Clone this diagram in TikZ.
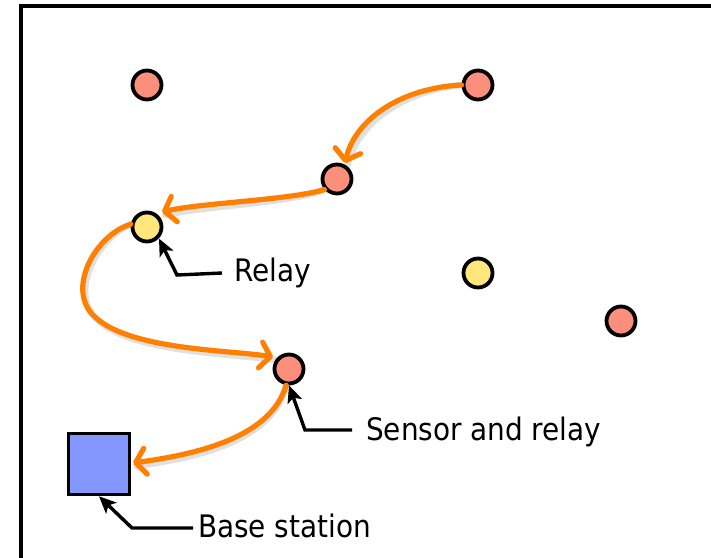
\documentclass[tikz,border=0pt]{standalone}
\usepackage{fontspec}
\setmainfont{DejaVu Sans Condensed}
\usetikzlibrary{arrows.meta}
\definecolor{flow}{RGB}{255,128,0}
\definecolor{sensorfill}{RGB}{252,142,124}
\definecolor{relayfill}{RGB}{255,230,125}
\definecolor{basefill}{RGB}{132,150,255}
\tikzset{
  sensor/.style={circle, draw=black, line width=3.8pt, fill=sensorfill, minimum size=29pt, inner sep=0pt},
  relay/.style={circle, draw=black, line width=3.8pt, fill=relayfill, minimum size=29pt, inner sep=0pt},
  base/.style={rectangle, draw=black, line width=3.6pt, fill=basefill, minimum size=61pt, inner sep=0pt},
  hop/.style={draw=flow, line width=5.2pt, line cap=round,
    -{Straight Barb[length=10pt, width=26pt, line width=5.2pt, round]}},
  hopshadow/.style={draw=black, opacity=0.12, line width=6.5pt, line cap=round},
  callout/.style={draw=black, line width=3.4pt, -{Stealth[length=17pt, width=15pt, inset=4pt]}},
  lbl/.style={anchor=west, font=\fontsize{31}{34}\selectfont, inner sep=0pt}
}
\begin{document}
\begin{tikzpicture}[x=1pt, y=-1pt]
\useasboundingbox (0,0) rectangle (711,557);
% frame
\draw[line width=3.8pt] (21,6) rectangle (740,580);

% radio nodes
\node[sensor] (n1) at (147,85) {};
\node[sensor] (n2) at (478,85) {};
\node[sensor] (n3) at (337,179) {};
\node[relay]  (r1) at (147,227) {};
\node[relay]  (r2) at (478,273) {};
\node[sensor] (n4) at (621,321) {};
\node[sensor] (sr) at (289,369) {};
\node[base]   (bs) at (99,464) {};

% soft shadows under the route
\begin{scope}[shift={(2.5,3)}]
\draw[hopshadow] (n2.west) .. controls (400,88) and (355,120) .. (345,162);
\draw[hopshadow] (n3.220) .. controls (290,200) and (200,203) .. (163,212);
\draw[hopshadow] (r1.170) .. controls (95,235) and (65,290) .. (95,317) .. controls (130,350) and (230,350) .. (272,357);
\draw[hopshadow] (sr.260) .. controls (270,440) and (190,455) .. (134,463);
\end{scope}

% multi-hop route to the base station
\draw[hop] (n2.west) .. controls (400,88) and (355,120) .. (345,163);
\draw[hop] (n3.220) .. controls (290,200) and (200,203) .. (162,212);
\draw[hop] (r1.170) .. controls (95,235) and (65,290) .. (95,317) .. controls (130,350) and (230,350) .. (273,357);
\draw[hop] (sr.260) .. controls (270,440) and (190,455) .. (133,463);

% labels with pointers
\node[lbl] (lr) at (234,273) {Relay};
\coordinate (kr) at (177,275);
\draw[callout] (lr.west -| 222,0) -- (kr) -- (r1.south east -| 159,0);

\node[lbl] (ls) at (366,432) {Sensor and relay};
\coordinate (ks) at (305,430);
\draw[callout] (352,430) -- (ks) -- (sr.south);

\node[lbl] (lb) at (198,526) {Base station};
\coordinate (kb) at (132,528);
\draw[callout] (193,528) -- (kb) -- (bs.south);
\end{tikzpicture}
\end{document}
